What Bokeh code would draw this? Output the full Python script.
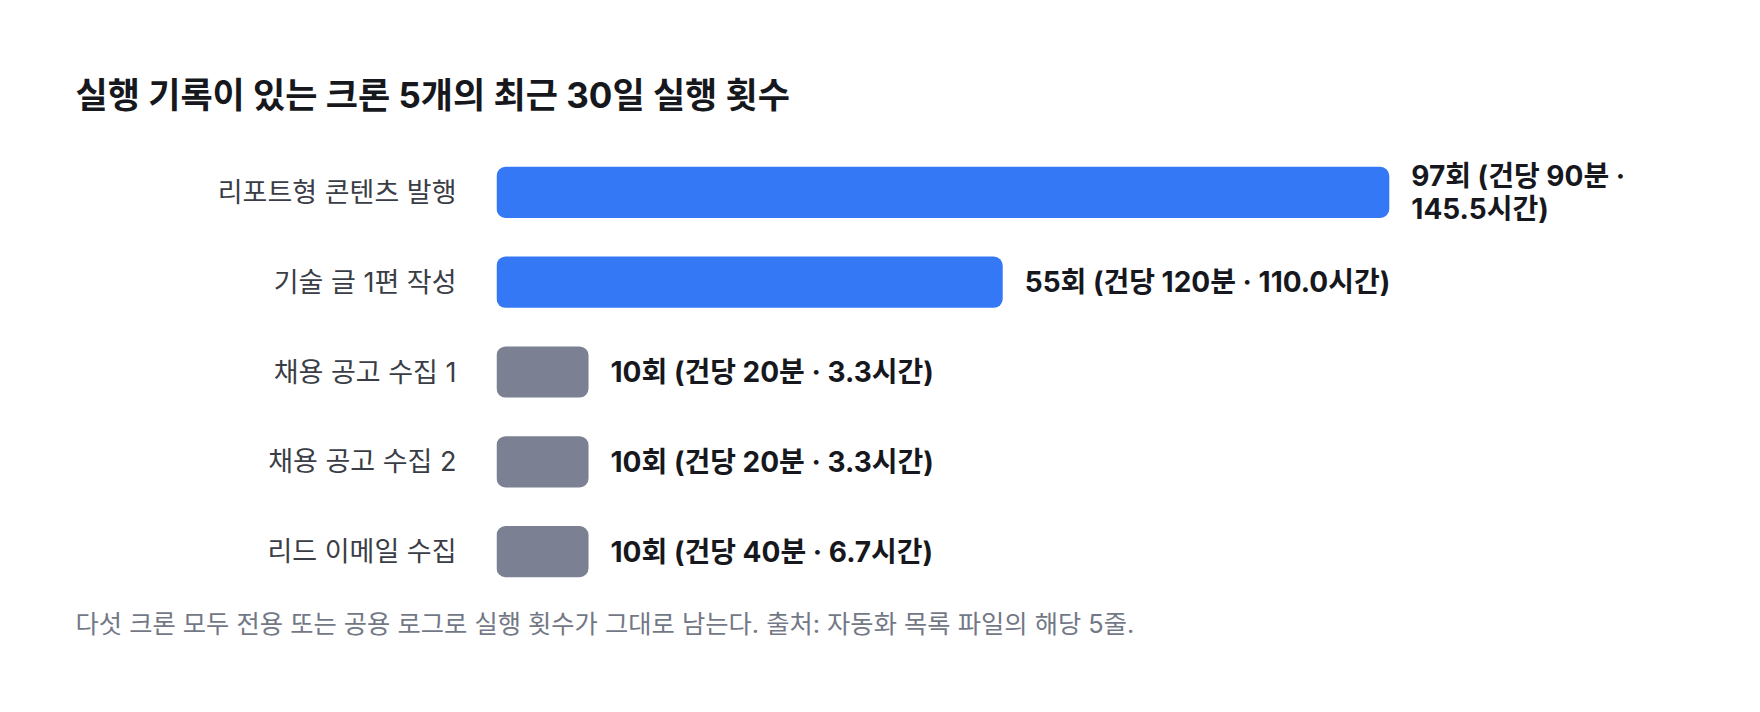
from bokeh.plotting import figure
from bokeh.models import ColumnDataSource, FactorRange, Range1d, Title
from bokeh.core.properties import value
from bokeh.embed import file_html
from bokeh.resources import INLINE

# ---- data ----
jobs = ["리포트형 콘텐츠 발행", "기술 글 1편 작성", "채용 공고 수집 1", "채용 공고 수집 2", "리드 이메일 수집"]
runs_30d = [97, 55, 10, 10, 10]
minutes_per_run = [90, 120, 20, 20, 40]
bar_colors = ["#3478F6", "#3478F6", "#7B8092", "#7B8092", "#7B8092"]

title_text = "실행 기록이 있는 크론 5개의 최근 30일 실행 횟수"
note_text = "다섯 크론 모두 전용 또는 공용 로그로 실행 횟수가 그대로 남는다. 출처: 자동화 목록 파일의 해당 5줄."

FONT = "Inter, Noto Sans CJK KR"

labels = []
top = max(runs_30d)
for n, m in zip(runs_30d, minutes_per_run):
    sep = "\n" if n == top else " "
    labels.append(f"{n}회 (건당 {m}분 ·{sep}{n * m / 60:.1f}시간)")

src = ColumnDataSource(dict(job=jobs, runs=runs_30d, color=bar_colors, label=labels))

p = figure(
    width=1744, height=696,
    y_range=FactorRange(factors=list(reversed(jobs))),
    x_range=Range1d(0, top * 1.39),
    output_backend="svg", toolbar_location=None,
    min_border_left=496, min_border_right=7,
    min_border_top=147, min_border_bottom=100,
)
p.background_fill_color = "white"
p.border_fill_color = "white"
p.outline_line_color = None
p.grid.visible = False
p.xaxis.visible = False

ya = p.yaxis[0]
ya.axis_line_color = None
ya.major_tick_line_color = None
ya.minor_tick_line_color = None
ya.major_label_standoff = 34
ya.major_label_text_font = FONT
ya.major_label_text_font_size = "27px"
ya.major_label_text_color = "#3a3d45"

p.hbar(y="job", right="runs", left=0, height=0.57, fill_color="color", line_color=None,
       border_radius=9, source=src)

p.text(x="runs", y="job", text="label", source=src, x_offset=22,
       text_baseline="middle", text_align="left",
       text_font=value(FONT), text_font_style="bold", text_font_size="28px",
       text_color="#16181d", text_line_height=0.97)

p.add_layout(Title(text=title_text, align="left", offset=-421, standoff=63,
                   text_font=FONT, text_font_size="35px", text_font_style="bold",
                   text_color="#16181d"), "above")
p.add_layout(Title(text=note_text, align="left", offset=-421, standoff=19,
                   text_font=FONT, text_font_size="25.3px", text_font_style="normal",
                   text_color="#737886"), "below")

open("out.html", "w").write(file_html(p, INLINE))
